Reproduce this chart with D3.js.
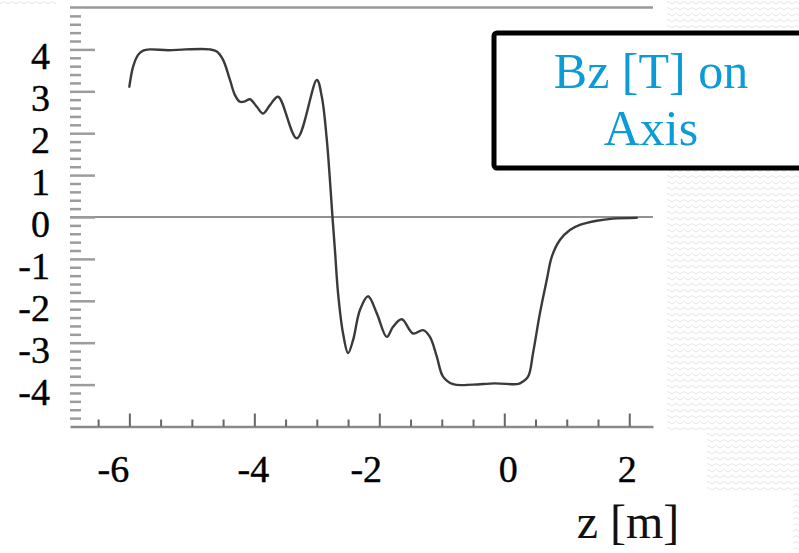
<!DOCTYPE html>
<html>
<head>
<meta charset="utf-8">
<script src="https://cdn.jsdelivr.net/npm/d3@7"></script>
<style>
  html, body { margin: 0; padding: 0; background: #fff; }
  svg { display: block; }
  text { font-family: "Liberation Serif", "Times New Roman", serif; font-variant-numeric: oldstyle-nums; }
</style>
</head>
<body>
<svg id="chart" width="799" height="553"></svg>
<script>
// On-axis field profile: position along the axis and Bz there
const zPos = [-6.00, -5.94, -5.86, -5.78, -5.67, -5.38, -5.10, -4.71, -4.60, -4.50,
              -4.39, -4.31, -4.23, -4.15, -4.07, -3.96, -3.86, -3.75, -3.62,
              -3.32, -3.00, -2.92, -2.84, -2.79, -2.75, -2.71, -2.66, -2.58,
              -2.50, -2.42, -2.31, -2.18, -2.04, -1.88, -1.78, -1.64, -1.46, -1.30,
              -1.19, -1.08, -0.98, -0.82, -0.50, -0.15, 0.20, 0.25, 0.38, 0.46,
              0.57, 0.68, 0.76, 0.89, 1.05, 1.21, 1.48, 1.74, 2.12];
const bzVal = [3.11, 3.59, 3.87, 3.97, 4.00, 3.98, 4.00, 4.00, 3.95, 3.75,
               3.27, 2.91, 2.75, 2.76, 2.81, 2.63, 2.47, 2.67, 2.87,
               1.88, 3.27, 2.87, 1.84, 0.88, 0.01, -0.79, -1.82, -2.78,
               -3.25, -2.94, -2.22, -1.89, -2.30, -2.86, -2.62, -2.44, -2.78, -2.70,
               -2.86, -3.33, -3.81, -3.99, -4.00, -3.97, -3.99, -3.97, -3.81, -3.25,
               -2.30, -1.50, -0.95, -0.55, -0.31, -0.19, -0.09, -0.04, -0.02];

const xTickValues = [-6, -4, -2, 0, 2];
const xTickLabels = ["-6", "-4", "-2", "0", "2"];
const yTickValues = [4, 3, 2, 1, 0, -1, -2, -3, -4];
const yTickLabels = ["4", "3", "2", "1", "0", "-1", "-2", "-3", "-4"];
const legendLines = ["Bz [T] on", "Axis"];
const xTitle = "z [m]";

const svg = d3.select("#chart");

// slide texture behind the plot image
const defs = svg.append("defs");
const pat = defs.append("pattern")
  .attr("id", "zig").attr("patternUnits", "userSpaceOnUse")
  .attr("width", 8).attr("height", 6);
pat.append("path")
  .attr("d", "M0,4 L4,1.5 L8,4")
  .attr("fill", "none").attr("stroke", "#e6e6e6").attr("stroke-width", 1);

const texture = [[667, 0, 132, 430], [707, 430, 92, 60], [793, 490, 6, 63], [0, 0, 56, 5]];
svg.selectAll("rect.tex").data(texture).join("rect")
  .attr("class", "tex")
  .attr("x", d => d[0]).attr("y", d => d[1])
  .attr("width", d => d[2]).attr("height", d => d[3])
  .attr("fill", "url(#zig)");

const x = d3.scaleLinear().domain([-6.95, 2.38]).range([70, 653]);
const y = d3.scaleLinear().domain([-5, 5]).range([426.5, 7.5]);

// top frame line and zero line
svg.append("line")
  .attr("x1", x.range()[0]).attr("x2", x.range()[1])
  .attr("y1", y(5)).attr("y2", y(5))
  .attr("stroke", "#9a9a9a").attr("stroke-width", 2.5);
svg.append("line")
  .attr("x1", x.range()[0]).attr("x2", x.range()[1])
  .attr("y1", y(0)).attr("y2", y(0))
  .attr("stroke", "#6e6e6e").attr("stroke-width", 1.6);

// y ticks, drawn inward from the left edge
const yMinor = d3.range(-4.8, 4.81, 0.2).map(v => Math.round(v * 10) / 10)
  .filter(v => Math.abs(v - Math.round(v)) > 1e-6);
const yAxisMinor = d3.axisRight(y).tickValues(yMinor).tickSize(11).tickFormat("").tickSizeOuter(0);
const yAxisMajor = d3.axisRight(y).tickValues(yTickValues).tickSize(25).tickFormat("").tickSizeOuter(0);
[yAxisMinor, yAxisMajor].forEach(ax => {
  const g = svg.append("g").attr("transform", `translate(${x.range()[0]},0)`).call(ax);
  g.select(".domain").remove();
  g.selectAll(".tick line").attr("stroke", "#9c9c9c").attr("stroke-width", 2.5);
});

// y tick labels
svg.append("g").selectAll("text").data(yTickValues).join("text")
  .attr("x", 50)
  .attr("y", d => y(d) + 20)
  .attr("text-anchor", "end")
  .attr("font-size", 38)
  .attr("fill", "#000")
  .attr("stroke", "#000").attr("stroke-width", 0.4)
  .text((d, i) => yTickLabels[i]);

// x axis: line with short upward ticks
const xMinor = d3.range(-6.5, 2.01, 0.5).filter(v => Math.abs(v % 2) > 1e-6);
const xAxisMinor = d3.axisTop(x).tickValues(xMinor).tickSize(7).tickFormat("").tickSizeOuter(0);
const xAxisMajor = d3.axisTop(x).tickValues(xTickValues).tickSize(13).tickFormat("").tickSizeOuter(0);
const gx1 = svg.append("g").attr("transform", `translate(0,${y(-5)})`).call(xAxisMinor);
gx1.select(".domain").attr("stroke", "#8a8a8a").attr("stroke-width", 2.5);
gx1.selectAll(".tick line").attr("stroke", "#666").attr("stroke-width", 2);
const gx2 = svg.append("g").attr("transform", `translate(0,${y(-5)})`).call(xAxisMajor);
gx2.select(".domain").remove();
gx2.selectAll(".tick line").attr("stroke", "#666").attr("stroke-width", 2);

// x tick labels (slightly hand-placed on the slide)
const xLabelNudge = [-16, -1, -13, 4, -2];
svg.append("g").selectAll("text").data(xTickValues).join("text")
  .attr("x", (d, i) => x(d) + xLabelNudge[i])
  .attr("y", 482)
  .attr("text-anchor", "middle")
  .attr("font-size", 38)
  .attr("fill", "#000")
  .attr("stroke", "#000").attr("stroke-width", 0.4)
  .text((d, i) => xTickLabels[i]);

svg.append("text")
  .attr("x", 628).attr("y", 538)
  .attr("text-anchor", "middle")
  .attr("font-size", 48)
  .attr("fill", "#111")
  .text(xTitle);

// field curve
const pts = zPos.map((z, i) => [z, bzVal[i]]);
const line = d3.line().x(d => x(d[0])).y(d => y(d[1])).curve(d3.curveCatmullRom.alpha(0.5));
svg.append("path")
  .datum(pts)
  .attr("d", line)
  .attr("fill", "none")
  .attr("stroke", "#3a3a3a")
  .attr("stroke-width", 2.4)
  .attr("stroke-linejoin", "round")
  .attr("stroke-linecap", "round");

// title box
svg.append("rect")
  .attr("x", 494).attr("y", 33)
  .attr("width", 340).attr("height", 135)
  .attr("rx", 3)
  .attr("fill", "#fff")
  .attr("stroke", "#000")
  .attr("stroke-width", 5);

svg.append("g").selectAll("text").data(legendLines).join("text")
  .attr("x", 651)
  .attr("y", (d, i) => 88 + i * 57)
  .attr("text-anchor", "middle")
  .attr("font-size", 50)
  .attr("fill", "#0b9bd7")
  .text(d => d);
</script>
</body>
</html>
